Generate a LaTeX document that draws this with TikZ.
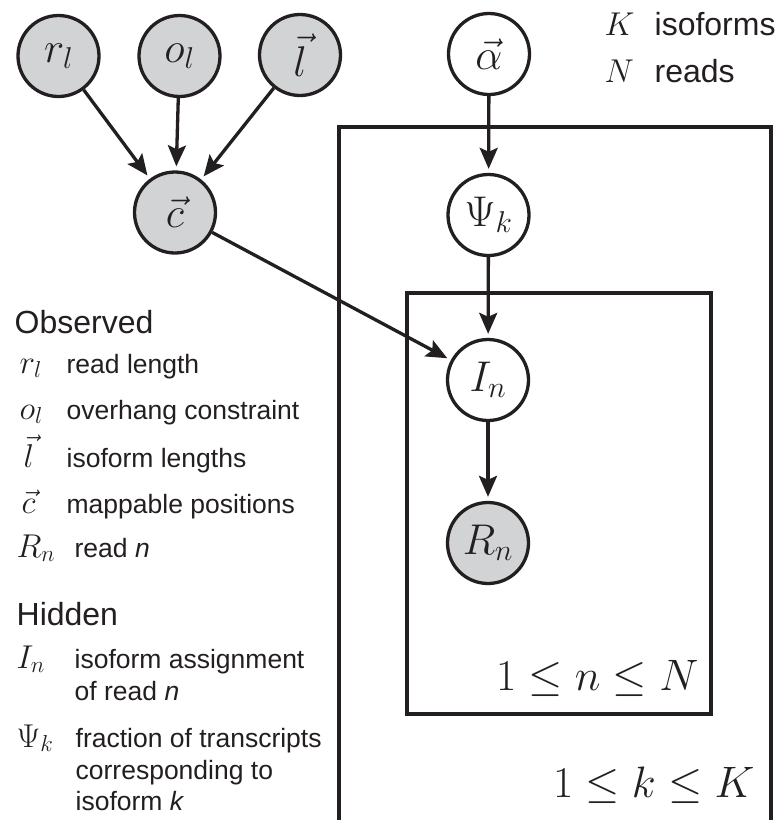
\RequirePackage{fix-cm}
\documentclass[tikz,border=0pt]{standalone}
\usepackage{fontspec}
\setmainfont{Liberation Sans}
\usetikzlibrary{arrows.meta}
\definecolor{ink}{HTML}{231F20}
\definecolor{obsfill}{HTML}{D1D3D4}
\begin{document}
\begin{tikzpicture}[x=1pt,y=-1pt,line width=3.3pt,color=ink,
  var/.style={circle,draw=ink,fill=white,minimum size=81pt,inner sep=0pt,font=\fontsize{43}{43}\selectfont},
  obsv/.style={var,fill=obsfill},
  arr/.style={-{Stealth[length=21pt,width=18pt,inset=4pt]},shorten >=4pt},
  plate/.style={draw=ink,line width=3.3pt},
  platelabel/.style={anchor=base east,inner sep=0pt,font=\fontsize{44}{44}\selectfont},
  head/.style={anchor=base west,inner sep=0pt,font=\fontsize{32}{32}\selectfont},
  sym/.style={anchor=base west,inner sep=0pt,font=\fontsize{33}{33}\selectfont},
  desc/.style={anchor=base west,inner sep=0pt,font=\fontsize{26.5}{26.5}\selectfont},
  topdesc/.style={anchor=base west,inner sep=0pt,font=\fontsize{32}{32}\selectfont}]
\useasboundingbox[fill=white] (0,0) rectangle (781,820);

% plates
\draw[plate] (339,820) -- (339,127) -- (771,127) -- (771,820);
\draw[plate] (407,293) rectangle (711,714);
\node[platelabel] (pn) at (700,690) {$1\le n\le N$};
\node[platelabel] (pk) at (756,797) {$1\le k\le K$};

% nodes
\node[obsv] (rl) at (58.5,56) {$r_l$};
\node[obsv] (ol) at (179.5,56) {$o_l$};
\node[obsv] (lv) at (300,55) {$\vec{l}$};
\node[obsv] (cv) at (175,212.5) {$\vec{c}$};
\node[var] (al) at (489,54) {$\vec{\alpha}$};
\node[var] (psi) at (488.5,215) {$\Psi_k$};
\node[var] (In) at (488,380) {$I_n$};
\node[obsv] (Rn) at (488,543) {$R_n$};

% edges
\draw[arr] (rl) -- (cv);
\draw[arr] (ol) -- (cv);
\draw[arr] (lv) -- (cv);
\draw[arr] (al) -- (psi);
\draw[arr] (psi) -- (In);
\draw[arr] (cv) -- (In);
\draw[arr] (In) -- (Rn);

% top-right legend
\node[sym] (sK) at (603,35) {$K$};
\node[topdesc] (tK) at (653,35) {isoforms};
\node[sym] (sN) at (603,82) {$N$};
\node[topdesc] (tN) at (653,82) {reads};

% left legend
\node[head] (hobs) at (13,333) {Observed};
\node[sym] (s1) at (18,373) {$r_l$};
\node[desc] (d1) at (65,373) {read length};
\node[sym] (s2) at (18,419) {$o_l$};
\node[desc] (d2) at (65,419) {overhang constraint};
\node[sym] (s3) at (22,467) {$\vec{l}$};
\node[desc] (d3) at (65,467) {isoform lengths};
\node[sym] (s4) at (20,513) {$\vec{c}$};
\node[desc] (d4) at (65,513) {mappable positions};
\node[sym] (s5) at (15,557) {$R_n$};
\node[desc] (d5) at (73,557) {read \textit{n}};

\node[head] (hhid) at (15,625) {Hidden};
\node[sym] (s6) at (15,668) {$I_n$};
\node[desc] (d6) at (73,668) {isoform assignment};
\node[desc] (d6b) at (73,700) {of read \textit{n}};
\node[sym] (s7) at (15,747) {$\Psi_k$};
\node[desc] (d7) at (74,747) {fraction of transcripts};
\node[desc] (d7b) at (74,779) {corresponding to};
\node[desc] (d7c) at (74,810) {isoform \textit{k}};
\end{tikzpicture}
\end{document}
